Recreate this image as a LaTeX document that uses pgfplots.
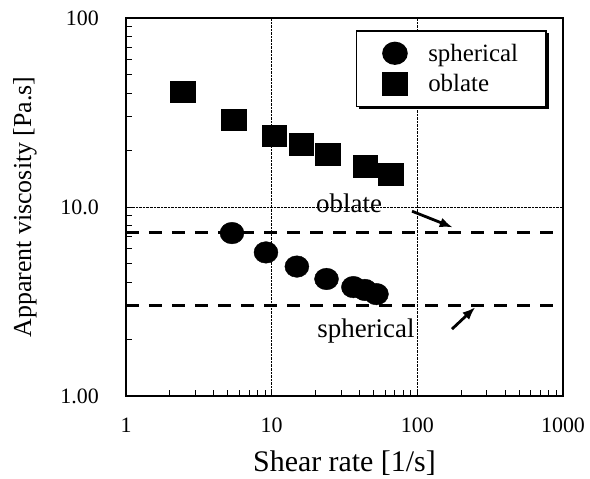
\documentclass[border=0pt]{standalone}
\usepackage{fontspec}
\setmainfont{Liberation Serif}
\usepackage{pgfplots}
\pgfplotsset{compat=1.18}
\usetikzlibrary{arrows.meta}
\begin{document}
\begin{tikzpicture}
\begin{axis}[
  scale only axis,
  width=437bp, height=378bp,
  xmode=log, ymode=log,
  xmin=1, xmax=1000, ymin=1, ymax=100,
  xtick={1,10,100,1000}, xticklabels={1,10,100,1000},
  ytick={1,10,100}, yticklabels={1.00,10.0,100},
  /pgf/number format/assume math mode=true,
  tick align=inside,
  xtick pos=bottom, ytick pos=left,
  major tick length=0bp, minor tick length=6bp,
  every tick/.style={black, line width=0.9bp},
  grid=major,
  major grid style={black, densely dotted, line width=0.7bp},
  axis line style={line width=1.5bp},
  tick label style={font=\fontsize{22}{26}\selectfont},
  xticklabel style={anchor=north, inner sep=0pt, yshift=-22bp},
  yticklabel style={anchor=east, inner sep=0pt, xshift=-27bp},
  xlabel={Shear rate [1/s]},
  ylabel={Apparent viscosity [Pa.s]},
  xlabel style={font=\fontsize{30}{34}\selectfont, at={(axis description cs:0.5,-0.177)}, anchor=center},
  ylabel style={font=\fontsize{26}{30}\selectfont, at={(axis description cs:-0.231,0.5)}, anchor=center},
  legend style={at={(axis description cs:0.526,0.968)}, anchor=north west,
    name=leg,
    draw=black, line width=1.6bp, fill=white,
    font=\fontsize{25}{29}\selectfont,
    inner xsep=26bp, inner ysep=11bp, row sep=8bp,
    /tikz/every odd column/.append style={column sep=19bp}},
  legend cell align=left,
  legend image code/.code={\draw[#1] plot coordinates {(0bp,0bp)};},
  clip=false,
]
\addplot[only marks, mark=*, mark size=12bp, mark options={fill=black, draw=black, yscale=0.9}]
  coordinates {(5.34,7.28) (9.14,5.75) (14.9,4.84) (23.8,4.16) (36.4,3.77) (43.7,3.64) (52.4,3.46)};
\addlegendentry{spherical\hspace{7bp}}
\addplot[only marks, mark=square*, mark size=12.3bp, mark options={fill=black, draw=black, yscale=0.88}]
  coordinates {(2.46,40.8) (5.51,29.0) (10.4,23.8) (15.9,21.5) (24.2,19.1) (44.0,16.5) (65.4,14.9)};
\addlegendentry{oblate}
\addplot[black, line width=3.5bp, dash pattern=on 13bp off 10bp, forget plot]
  coordinates {(1,7.35) (1000,7.35)};
\addplot[black, line width=3.5bp, dash pattern=on 13bp off 10bp, forget plot]
  coordinates {(1,3.02) (1000,3.02)};
\node[anchor=base, font=\fontsize{27}{30}\selectfont, inner sep=0pt] at (axis cs:34,9.3) {oblate};
\node[anchor=base, font=\fontsize{27}{30}\selectfont, inner sep=0pt] at (axis cs:44.4,2.03) {spherical};
\draw[line width=2.8bp, -{Latex[length=13bp,width=10bp]}] (axis cs:92,9.5) -- (axis cs:175,7.8);
\draw[line width=2.8bp, -{Latex[length=13bp,width=10bp]}] (axis cs:173,2.26) -- (axis cs:250,2.95);
\end{axis}
\draw[line width=2.5bp] ([shift={(3bp,-1bp)}]leg.south west) -- ([shift={(1bp,-1bp)}]leg.south east) -- ([shift={(1bp,-3bp)}]leg.north east);
\pgfresetboundingbox
\path ([shift={(-126bp,-83bp)}]current axis.south west) rectangle ([shift={(27bp,18bp)}]current axis.north east);
\end{tikzpicture}
\end{document}
